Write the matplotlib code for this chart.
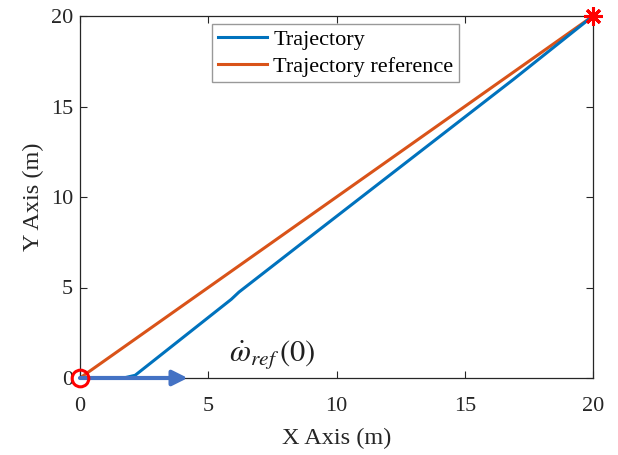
import matplotlib
matplotlib.use("Agg")
import matplotlib.pyplot as plt

# Data
ref_x = [0, 20]
ref_y = [0, 20]
traj_x = [0, 1.7, 2.15, 5.9, 6.2, 8.58, 16.9, 20]
traj_y = [0, 0.0, 0.15, 4.35, 4.75, 7.37, 16.5, 20]
start_pt = (0, 0)
goal_pt = (20, 20)
arrow_start = (0, 0)
arrow_end = (4.2, 0)
xticks = [0, 5, 10, 15, 20]
yticks = [0, 5, 10, 15, 20]

plt.rcParams['font.family'] = ['Liberation Serif', 'DejaVu Serif']
plt.rcParams['mathtext.fontset'] = 'stix'

fig = plt.figure(figsize=(6.18, 4.55), dpi=100)
ax = fig.add_axes([80/618, (455-378)/455, 513/618, 362/455])

l1, = ax.plot(traj_x, traj_y, color='#0072BD', lw=2.2, label='Trajectory', zorder=3)
l2, = ax.plot(ref_x, ref_y, color='#D95319', lw=2.2, label='Trajectory reference', zorder=2)

ax.annotate('', xy=arrow_end, xytext=arrow_start,
            arrowprops=dict(arrowstyle='-|>,head_length=0.9,head_width=0.45',
                            color='#4472C4', lw=3, shrinkA=0, shrinkB=0),
            zorder=4, annotation_clip=False)

ax.plot([start_pt[0]], [start_pt[1]], 'o', mfc='none', mec='#FF0000', ms=12, mew=2.2,
        zorder=5, clip_on=False)
ax.plot([goal_pt[0]], [goal_pt[1]], marker=(8, 2, 0), color='#FF0000', ms=13, mew=2.2,
        zorder=5, clip_on=False)

ax.text(7.5, 1.3, r'$\dot{\omega}_{ref}\,(0)$', fontsize=22, color='#202020',
        ha='center', va='center')

ax.set_xlim(0, 20)
ax.set_ylim(0, 20)
ax.set_xticks(xticks)
ax.set_yticks(yticks)
ax.tick_params(direction='in', top=True, right=True, length=5, width=0.8,
               labelsize=16, colors='#262626')
ax.tick_params(axis='x', pad=14)
ax.tick_params(axis='y', pad=5)
for s in ax.spines.values():
    s.set_linewidth(0.9)
    s.set_color('#262626')

ax.set_xlabel('X Axis (m)', fontsize=17.5, color='#262626', labelpad=8)
ax.set_ylabel('Y Axis (m)', fontsize=17.5, color='#262626', labelpad=5)

leg = ax.legend(handles=[l1, l2], loc='upper left', bbox_to_anchor=(0.258, 0.979),
                fontsize=16, frameon=True, fancybox=False, handlelength=2.2,
                handletextpad=0.3, borderpad=0.25, labelspacing=0.3, borderaxespad=0)
leg.get_frame().set_edgecolor('#808080')
leg.get_frame().set_linewidth(1.0)

fig.savefig('out.png', dpi=100)
